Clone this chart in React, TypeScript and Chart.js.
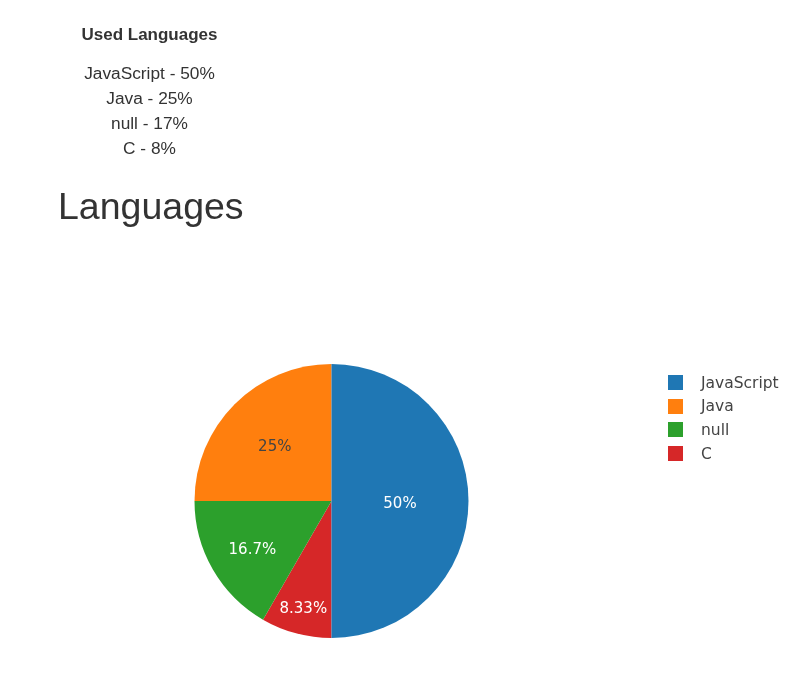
import React, { useEffect, useRef } from "react";
import { Chart, registerables } from "chart.js";

Chart.register(...registerables);

const categories = ["JavaScript", "Java", "null", "C"];
const counts = [6, 3, 2, 1];
const sliceColors = ["#1f77b4", "#ff7f0e", "#2ca02c", "#d62728"];
const listPercents = ["50%", "25%", "17%", "8%"];

const isLight = (hex: string) => {
  const r = parseInt(hex.slice(1, 3), 16);
  const g = parseInt(hex.slice(3, 5), 16);
  const b = parseInt(hex.slice(5, 7), 16);
  return (r * 299 + g * 587 + b * 114) / 1000 >= 128;
};

const insideLabels = {
  id: "insideLabels",
  afterDatasetsDraw(chart: any) {
    const ctx = chart.ctx;
    const meta = chart.getDatasetMeta(0);
    const ds = chart.data.datasets[0];
    const total = (ds.data as number[]).reduce((a, b) => a + b, 0);
    ctx.save();
    ctx.font = "15px 'DejaVu Sans', Verdana, sans-serif";
    ctx.textAlign = "center";
    ctx.textBaseline = "middle";
    meta.data.forEach((arc: any, i: number) => {
      const { x, y, startAngle, endAngle, outerRadius } = arc.getProps(
        ["x", "y", "startAngle", "endAngle", "outerRadius"],
        true
      );
      const half = (endAngle - startAngle) / 2;
      const mid = (startAngle + endAngle) / 2;
      const rIns = Math.min(1 / (1 + 1 / Math.sin(half)), 0.5);
      const rc = (1 - rIns) * outerRadius;
      const tx = x + rc * Math.cos(mid);
      const ty = y + rc * Math.sin(mid);
      const pct = Number(((ds.data[i] / total) * 100).toPrecision(3));
      const col = (ds.backgroundColor as string[])[i];
      ctx.fillStyle = isLight(col) ? "#444444" : "#ffffff";
      ctx.fillText(pct + "%", tx, ty + 3);
    });
    ctx.restore();
  },
};

export default function App() {
  const canvasRef = useRef<HTMLCanvasElement | null>(null);

  useEffect(() => {
    if (!canvasRef.current) return;
    // plotly draws counter-clockwise; feed Chart.js the reversed order starting at the bottom
    const order = categories.map((_, i) => i).reverse();
    const chart = new Chart(canvasRef.current, {
      type: "pie",
      data: {
        labels: order.map((i) => categories[i]),
        datasets: [
          {
            data: order.map((i) => counts[i]),
            backgroundColor: order.map((i) => sliceColors[i]),
            borderWidth: 0,
          },
        ],
      },
      options: {
        responsive: false,
        animation: false,
        rotation: 180,
        layout: { padding: { left: 194, right: 318, top: 364, bottom: 44 } },
        plugins: {
          legend: { display: false },
          tooltip: { enabled: false },
          title: { display: false },
        },
      },
      plugins: [insideLabels],
    });
    return () => chart.destroy();
  }, []);

  const textColor = "#333333";

  return (
    <div style={{ position: "absolute", left: 0, top: 0, width: 787, height: 682, overflow: "hidden" }}>
      <canvas
        ref={canvasRef}
        width={787}
        height={682}
        style={{ position: "absolute", left: 0, top: 0, width: 787, height: 682 }}
      />
      <div
        style={{
          position: "absolute",
          left: 0,
          top: 25,
          width: 299,
          textAlign: "center",
          fontFamily: "'Liberation Sans', Arial, sans-serif",
          color: textColor,
        }}
      >
        <div style={{ fontWeight: "bold", fontSize: 17, lineHeight: "20px" }}>Used Languages</div>
        <div style={{ marginTop: 16, fontSize: 17.3, lineHeight: "25px" }}>
          {categories.map((c, i) => (
            <div key={c}>
              {c} - {listPercents[i]}
            </div>
          ))}
        </div>
      </div>
      <div
        style={{
          position: "absolute",
          left: 58,
          top: 182,
          fontFamily: "'Liberation Sans', Arial, sans-serif",
          fontSize: 37.5,
          lineHeight: "48px",
          color: "#333333",
          whiteSpace: "nowrap",
        }}
      >
        Languages
      </div>
      <div
        style={{
          position: "absolute",
          left: 668,
          top: 371,
          fontFamily: "'DejaVu Sans', Verdana, sans-serif",
          fontSize: 15.5,
          color: "#444444",
        }}
      >
        {categories.map((c, i) => (
          <div key={c} style={{ display: "flex", alignItems: "center", height: 23.6 }}>
            <span
              style={{
                display: "inline-block",
                width: 15,
                height: 15,
                background: sliceColors[i],
                marginRight: 18,
              }}
            />
            <span>{c}</span>
          </div>
        ))}
      </div>
    </div>
  );
}
